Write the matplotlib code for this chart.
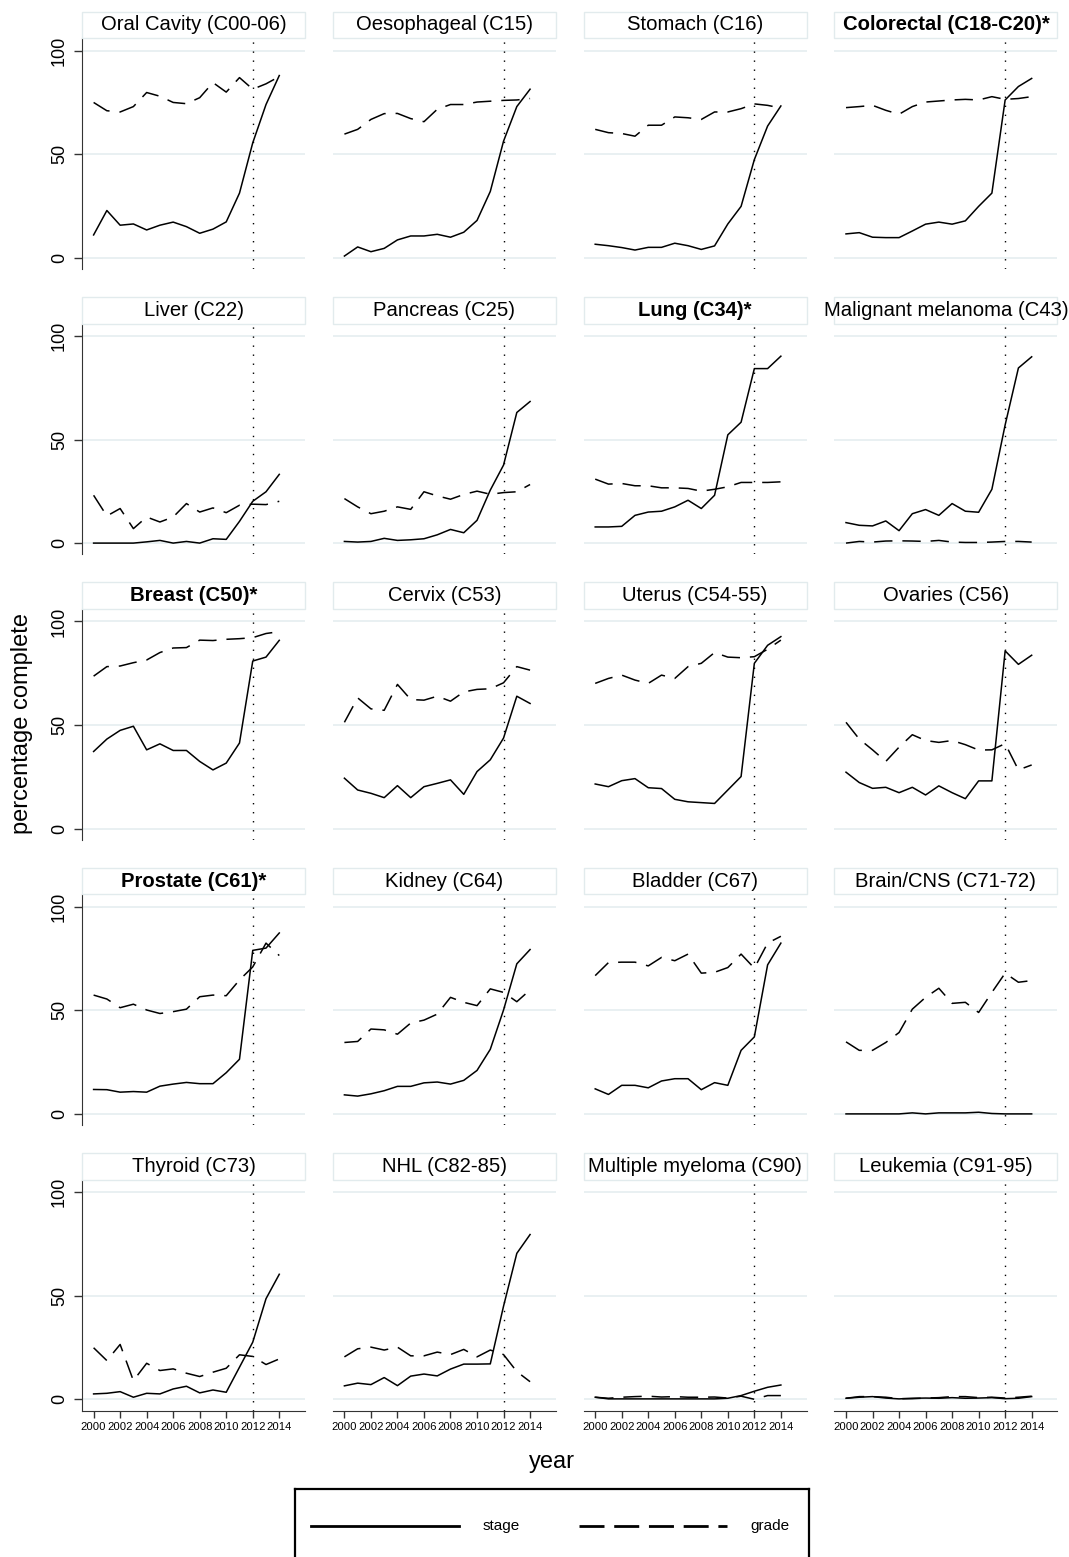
import matplotlib
matplotlib.use("Agg")
import matplotlib.pyplot as plt
from matplotlib.patches import Rectangle

plt.rcParams["font.family"] = ["Liberation Sans", "DejaVu Sans"]

years = list(range(2000, 2015))
xtick_years = list(range(2000, 2015, 2))

titles = [
    "Oral Cavity (C00-06)", "Oesophageal (C15)", "Stomach (C16)", "Colorectal (C18-C20)*",
    "Liver (C22)", "Pancreas (C25)", "Lung (C34)*", "Malignant melanoma (C43)",
    "Breast (C50)*", "Cervix (C53)", "Uterus (C54-55)", "Ovaries (C56)",
    "Prostate (C61)*", "Kidney (C64)", "Bladder (C67)", "Brain/CNS (C71-72)",
    "Thyroid (C73)", "NHL (C82-85)", "Multiple myeloma (C90)", "Leukemia (C91-95)",
]
bold_titles = ["Colorectal (C18-C20)*", "Lung (C34)*", "Breast (C50)*", "Prostate (C61)*"]

# percentage complete, 2000..2014
oral_stage = [11, 22.8, 15.7, 16.3, 13.4, 15.7, 17.2, 15, 11.8, 13.8, 17.3, 31.2, 55.5, 74, 88]
oral_grade = [75, 71, 70.4, 73, 79.8, 78, 75, 74.4, 77.3, 84.6, 80, 87, 81.4, 84, 87.5]
oeso_stage = [0.8, 5.2, 2.9, 4.5, 8.6, 10.5, 10.5, 11.3, 9.9, 12.3, 18, 32, 56.3, 73, 81.4]
oeso_grade = [59.7, 62, 66.8, 69.6, 69.7, 67.2, 65.7, 71.7, 74, 74, 75.2, 75.6, 76, 76.2, 76.9]
stomach_stage = [6.5, 5.8, 4.9, 3.7, 5, 5, 7, 5.8, 4, 5.7, 16.3, 24.8, 47.4, 63.6, 73.3]
stomach_grade = [62, 60.4, 60, 58.7, 64, 64, 68, 67.6, 66.8, 70.4, 70.4, 72, 74.3, 73.6, 72.3]
colorectal_stage = [11.5, 12.1, 9.9, 9.7, 9.7, 12.9, 16.2, 17.2, 16.2, 17.8, 24.8, 31.2, 76.2, 82.7, 86.6]
colorectal_grade = [72.5, 73, 73.6, 71.2, 69.3, 73, 75.2, 75.7, 76.2, 76.5, 76.2, 77.8, 76.5, 76.9, 77.8]
liver_stage = [0, 0, 0, 0, 0.6, 1.3, 0, 0.8, 0, 2.1, 1.8, 10.5, 20.2, 24.8, 33.2]
liver_grade = [23.1, 13.1, 16.7, 7, 12.6, 10.2, 12.6, 19.1, 15, 17, 14.7, 18.3, 18.8, 18.6, 20.2]
pancreas_stage = [0.8, 0.5, 0.8, 2.3, 1.3, 1.6, 2.1, 4, 6.6, 5, 11, 25.6, 37.7, 63.1, 68.4]
pancreas_grade = [21.5, 17.5, 14.2, 15.4, 17.5, 16.3, 24.8, 22.8, 21.2, 23.5, 25.1, 23.6, 24.4, 24.8, 28.3]
lung_stage = [7.8, 7.8, 8.1, 13.4, 15, 15.4, 17.5, 20.7, 16.7, 23.1, 52.3, 58.4, 84.3, 84.3, 90.3]
lung_grade = [30.9, 28.5, 28.8, 27.7, 27.7, 26.7, 26.7, 26.4, 25.1, 26, 27.2, 29.3, 29.3, 29.3, 29.6]
melanoma_stage = [9.9, 8.6, 8.3, 10.7, 6, 14.2, 16.2, 13.4, 19.1, 15.4, 14.9, 26, 57.1, 84.6, 90]
melanoma_grade = [0, 0.8, 0.5, 1, 1.1, 1, 0.8, 1.3, 0.5, 0.3, 0.3, 0.5, 0.8, 0.8, 0.5]
breast_stage = [37.2, 43.2, 47.4, 49.4, 38, 40.9, 37.7, 37.7, 32.4, 28.3, 31.6, 41.3, 80.9, 82.8, 90.9]
breast_grade = [73.6, 78.2, 78.5, 80.1, 81.4, 85, 87.2, 87.4, 91, 90.8, 91.4, 91.7, 92.2, 94.2, 95.1]
cervix_stage = [24.3, 18.6, 17, 14.9, 20.7, 14.9, 20.2, 21.8, 23.5, 16.5, 27.5, 33.2, 43.7, 63.9, 60.4]
cervix_grade = [51.3, 63.1, 57.8, 57.1, 69.6, 62.3, 62, 63.9, 61.5, 66, 67.2, 67.5, 70.4, 78.2, 76.5]
uterus_stage = [21.5, 20.2, 23.1, 24.1, 19.7, 19.3, 14.1, 12.9, 12.5, 12.1, 18.6, 25.1, 79.8, 88.5, 92.7]
uterus_grade = [70.1, 72.5, 74.1, 71.7, 70.1, 74.1, 72.5, 78.2, 79.8, 85, 82.8, 82.5, 83, 86.6, 91]
ovaries_stage = [27.2, 22.2, 19.4, 19.9, 17.3, 19.9, 16.2, 20.6, 17.3, 14.4, 23, 23, 85.8, 79.3, 83.7]
ovaries_grade = [51.3, 43.2, 38, 32.4, 39.3, 45.3, 42.5, 41.6, 42.5, 40.5, 37.9, 38, 41, 28.3, 30.7]
prostate_stage = [11.8, 11.7, 10.5, 10.8, 10.5, 13.4, 14.4, 15.2, 14.6, 14.6, 19.9, 26.4, 79, 80.1, 87.4]
prostate_grade = [57.4, 55.5, 51.3, 53, 50.2, 48.5, 49.4, 50.6, 56.6, 57.4, 57.1, 64.7, 71, 82.5, 76.5]
kidney_stage = [9.2, 8.6, 9.7, 11.2, 13.3, 13.3, 15, 15.4, 14.4, 16.2, 21, 31.2, 50.2, 72.5, 79.4]
kidney_grade = [34.5, 35, 41, 40.6, 38.5, 43.9, 45.3, 48.2, 56.3, 53.9, 52.3, 60.4, 58.7, 54.2, 59.9]
bladder_stage = [12.1, 9.4, 13.8, 13.8, 12.6, 15.9, 17, 17, 11.7, 15.1, 13.8, 30.7, 37.2, 72, 82.5]
bladder_grade = [66.8, 73.1, 73.3, 73.3, 71.5, 75.6, 74, 77.2, 68, 68.4, 70.7, 77.2, 70.4, 82.5, 85.8]
brain_stage = [0, 0, 0, 0, 0, 0.5, 0, 0.5, 0.5, 0.5, 0.8, 0.2, 0, 0, 0]
brain_grade = [34.8, 30.7, 30.7, 34.5, 39.3, 50.6, 56.3, 60.7, 53.4, 53.9, 49, 58.7, 68, 63.6, 64.4]
thyroid_stage = [2.6, 2.9, 3.7, 1, 2.9, 2.6, 5, 6.3, 3.1, 4.5, 3.4, 15.5, 27.6, 48.6, 60.4]
thyroid_grade = [24.9, 18.7, 26.5, 9, 17.4, 13.9, 14.7, 12.6, 11, 13.1, 15, 21.5, 20.7, 16.8, 19.5]
nhl_stage = [6.5, 7.8, 7.1, 10.5, 6.6, 11.2, 12.2, 11.3, 14.6, 17, 17, 17.1, 45, 70.5, 79.6]
nhl_grade = [20.5, 24.4, 25.2, 23.8, 25.2, 21, 21, 22.8, 21.6, 24.1, 20.5, 23.8, 21.6, 13.4, 8.5]
myeloma_stage = [1, 0.2, 0.2, 0.2, 0.2, 0.2, 0.2, 0.2, 0.2, 0.2, 0.5, 1.8, 3.9, 5.8, 6.9]
myeloma_grade = [1, 0.5, 1, 1.3, 1.5, 1.1, 1.3, 1, 1, 1.1, 0.6, 1.5, 0, 1.8, 1.8]
leukemia_stage = [0.5, 1, 1.3, 0.6, 0.2, 0.5, 0.6, 0.5, 0.8, 0.5, 0.6, 0.8, 0.3, 0.5, 1.3]
leukemia_grade = [0.5, 1.3, 1.3, 1, 0.3, 0.3, 0.6, 0.8, 1.3, 1.3, 0.8, 1, 0.6, 1, 1.5]

stage_series = [oral_stage, oeso_stage, stomach_stage, colorectal_stage,
                liver_stage, pancreas_stage, lung_stage, melanoma_stage,
                breast_stage, cervix_stage, uterus_stage, ovaries_stage,
                prostate_stage, kidney_stage, bladder_stage, brain_stage,
                thyroid_stage, nhl_stage, myeloma_stage, leukemia_stage]
grade_series = [oral_grade, oeso_grade, stomach_grade, colorectal_grade,
                liver_grade, pancreas_grade, lung_grade, melanoma_grade,
                breast_grade, cervix_grade, uterus_grade, ovaries_grade,
                prostate_grade, kidney_grade, bladder_grade, brain_grade,
                thyroid_grade, nhl_grade, myeloma_grade, leukemia_grade]

W, H = 1069, 1557
fig = plt.figure(figsize=(W / 100, H / 100), dpi=100)


def frac(x, y, w, h):
    # pixel box (top-left origin) -> figure fraction
    return [x / W, 1 - (y + h) / H, w / W, h / H]


col_left = [82, 332.8, 583.6, 834.4]
row_zero = [257.7, 543.1, 828.5, 1113.9, 1399.3]
plot_w = 223
ppu = 2.07
ymin, ymax = -5.5, 106
xmin, xmax = 1999.125, 2015.94
grid_col = "#e7eff1"
axis_col = "#333333"

for i, title in enumerate(titles):
    r, c = divmod(i, 4)
    top = row_zero[r] - ymax * ppu
    h = (ymax - ymin) * ppu
    ax = fig.add_axes(frac(col_left[c], top, plot_w, h))
    ax.set_xlim(xmin, xmax)
    ax.set_ylim(ymin, ymax)
    for gy in (0, 50, 100):
        ax.axhline(gy, color=grid_col, lw=1.3, zorder=0)
    ax.axvline(2012, color="black", lw=1.0, linestyle=(0, (1, 5.5)), zorder=1)
    ax.plot(years, grade_series[i], color="black", lw=1.1,
            linestyle=(0, (12, 6.5)), zorder=2)
    ax.plot(years, stage_series[i], color="black", lw=1.1, zorder=3)

    for s in ax.spines.values():
        s.set_visible(False)
    ax.set_yticks([0, 50, 100])
    ax.set_xticks(xtick_years)
    if c == 0:
        ax.spines["left"].set_visible(True)
        ax.spines["left"].set_color(axis_col)
        ax.tick_params(axis="y", length=6, width=1, color=axis_col,
                       labelsize=13, pad=4)
        for lab in ax.get_yticklabels():
            lab.set_rotation(90)
            lab.set_va("center")
    else:
        ax.tick_params(axis="y", left=False, labelleft=False)
    if r == 4:
        ax.spines["bottom"].set_visible(True)
        ax.spines["bottom"].set_color(axis_col)
        ax.tick_params(axis="x", length=5, width=1, color=axis_col,
                       labelsize=8.1, pad=3)
    else:
        ax.tick_params(axis="x", bottom=False, labelbottom=False)

    # title strip
    box_h = 26.6
    fig.patches.append(Rectangle(((col_left[c]) / W, 1 - top / H), plot_w / W, box_h / H,
                                 transform=fig.transFigure, facecolor="white",
                                 edgecolor="#e2ebed", lw=1))
    fig.text((col_left[c] + plot_w / 2) / W, 1 - (top - box_h / 2) / H, title,
             ha="center", va="center", fontsize=14.6,
             fontweight="bold" if title in bold_titles else "normal")

fig.text(22 / W, 1 - 724 / H, "percentage complete", rotation=90,
         ha="center", va="center", fontsize=17)
fig.text(552 / W, 1 - 1462 / H, "year", ha="center", va="center", fontsize=17)

# legend box
leg = fig.add_axes(frac(295, 1489, 514, 76))
leg.set_xlim(295, 809)
leg.set_ylim(1565, 1489)
leg.set_xticks([])
leg.set_yticks([])
for s in leg.spines.values():
    s.set_color("black")
    s.set_linewidth(1.6)
leg.plot([311, 459], [1526, 1526], color="black", lw=2)
leg.plot([579, 727], [1526, 1526], color="black", lw=2, linestyle=(0, (9, 3.5)))
leg.text(483, 1526, "stage", ha="left", va="center", fontsize=11)
leg.text(750, 1526, "grade", ha="left", va="center", fontsize=11)

fig.savefig("out.png", dpi=100)
